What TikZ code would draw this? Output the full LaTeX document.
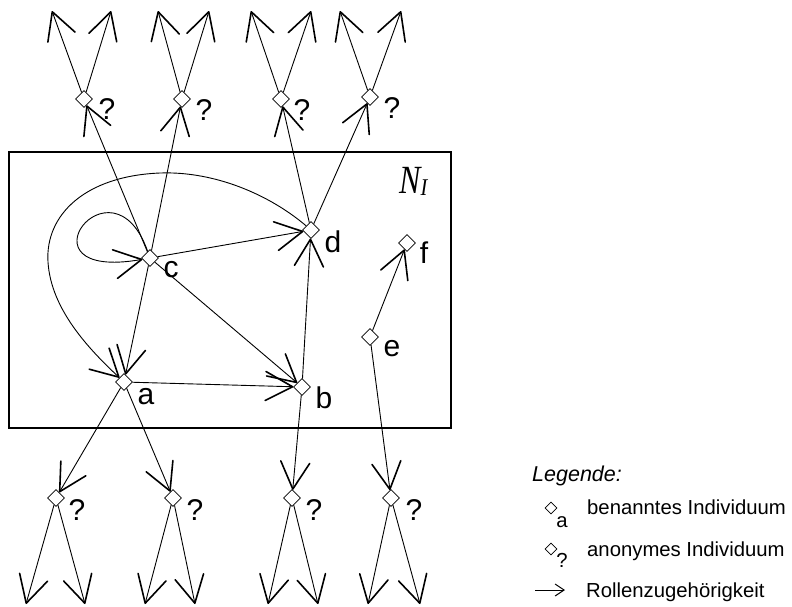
\documentclass[tikz,border=0pt]{standalone}
\usepackage{fontspec}
\setmainfont{Liberation Sans}
\newfontfamily\tnr{Liberation Serif}
\usetikzlibrary{arrows.meta,shapes.geometric}
\begin{document}
\begin{tikzpicture}[x=1pt,y=-1pt,
  ind/.style={diamond,draw,fill=white,minimum size=17pt,inner sep=0pt,line width=0.8pt},
  smallind/.style={diamond,draw,fill=white,minimum size=12pt,inner sep=0pt,line width=0.7pt},
  lbl/.style={inner sep=0pt,font=\fontsize{30}{34}\selectfont},
  leg/.style={inner sep=0pt,font=\fontsize{20.3}{24}\selectfont},
  rel/.style={line width=0.9pt,line join=round,-{Straight Barb[length=27pt,width=29pt,line width=1.6pt,round]}},
  legarrow/.style={line width=1pt,-{Straight Barb[length=9pt,width=12pt,line width=1pt]}},
  frame/.style={line width=1.4pt}]
\useasboundingbox (0,0) rectangle (792,606);
% frame
\draw[frame] (9,152) rectangle (451,428);
\node[anchor=base west,inner sep=0pt,font=\tnr\itshape] (NI) at (399,193)
  {\scalebox{0.8}[1]{\fontsize{40}{44}\selectfont N}\raisebox{-2.5pt}{\scalebox{0.85}[1]{\fontsize{24}{28}\selectfont I}}};
% individuals
\node[ind] (q1) at (84,99) {};
\node[ind] (q2) at (182,99) {};
\node[ind] (q3) at (281,99) {};
\node[ind] (q4) at (370,97) {};
\node[ind] (c) at (150,258) {};
\node[ind] (d) at (311,230) {};
\node[ind] (f) at (407,243) {};
\node[ind] (e) at (370,337) {};
\node[ind] (a) at (124,382) {};
\node[ind] (b) at (302,387) {};
\node[ind] (p1) at (56,498) {};
\node[ind] (p2) at (173,498) {};
\node[ind] (p3) at (292,498) {};
\node[ind] (p4) at (391,498) {};
% free arrow ends
\coordinate (t11) at (52,11);  \coordinate (t12) at (111,11);
\coordinate (t21) at (158,11); \coordinate (t22) at (209,11);
\coordinate (t31) at (251,11); \coordinate (t32) at (311,11);
\coordinate (t41) at (340,11); \coordinate (t42) at (401,11);
\coordinate (u11) at (26,604);  \coordinate (u12) at (85,604);
\coordinate (u21) at (145,604); \coordinate (u22) at (195,604);
\coordinate (u31) at (268,604); \coordinate (u32) at (318,604);
\coordinate (u41) at (368,604); \coordinate (u42) at (420,604);
% labels
\node[lbl] (lc) at (171,270) {c};
\node[lbl] (ld) at (333,242) {d};
\node[lbl] (lf) at (424,253) {f};
\node[lbl] (le) at (392,349) {e};
\node[lbl] (la) at (146,397) {a};
\node[lbl] (lb) at (324,398) {b};
\node[lbl] (lq1) at (107,109) {?};
\node[lbl] (lq2) at (204,110) {?};
\node[lbl] (lq3) at (302,110) {?};
\node[lbl] (lq4) at (392,108) {?};
\node[lbl] (lp1) at (77,510) {?};
\node[lbl] (lp2) at (195,510) {?};
\node[lbl] (lp3) at (314,510) {?};
\node[lbl] (lp4) at (414,510) {?};
% top arrows
\draw[rel] (q1) -- (t11); \draw[rel] (q1) -- (t12);
\draw[rel] (q2) -- (t21); \draw[rel] (q2) -- (t22);
\draw[rel] (q3) -- (t31); \draw[rel] (q3) -- (t32);
\draw[rel] (q4) -- (t41); \draw[rel] (q4) -- (t42);
% bottom arrows
\draw[rel] (p1) -- (u11); \draw[rel] (p1) -- (u12);
\draw[rel] (p2) -- (u21); \draw[rel] (p2) -- (u22);
\draw[rel] (p3) -- (u31); \draw[rel] (p3) -- (u32);
\draw[rel] (p4) -- (u41); \draw[rel] (p4) -- (u42);
% relations
\draw[rel] (c) -- (q1);
\draw[rel] (c) -- (q2);
\draw[rel] (d) -- (q3);
\draw[rel] (d) -- (q4);
\draw[rel] (c) .. controls (112,150) and (12,282) .. (c);
\draw[rel] (c) -- (d);
\draw[rel] (c) -- (b);
\draw[rel] (c) -- (a);
\draw[rel] (d) .. controls (270,195) and (215,171) .. (160,173)
               .. controls (85,176) and (45,215) .. (48,262)
               .. controls (51,310) and (90,350) .. (a);
\draw[rel] (a) -- (b);
\draw[rel] (b) -- (d);
\draw[rel] (e) -- (f);
\draw[rel] (a) -- (p1);
\draw[rel] (a) -- (p2);
\draw[rel] (b) -- (p3);
\draw[rel] (e) -- (p4);
% legend
\node[leg,anchor=base west,font=\itshape\fontsize{21.5}{25}\selectfont] (legt) at (532,481) {Legende:};
\node[leg] (lega) at (562,522) {a};
\node[smallind] (legd1) at (551,508) {};
\node[leg,anchor=base west] (legt1) at (587,514) {benanntes Individuum};
\node[leg] (legq) at (562,560) {?};
\node[smallind] (legd2) at (551,549) {};
\node[leg,anchor=base west] (legt2) at (587,556) {anonymes Individuum};
\coordinate (la1) at (535,590);
\coordinate (la2) at (565,590);
\draw[legarrow] (la1) -- (la2);
\node[leg,anchor=base west] (legt3) at (586,597) {Rollenzugehörigkeit};
\end{tikzpicture}
\end{document}
